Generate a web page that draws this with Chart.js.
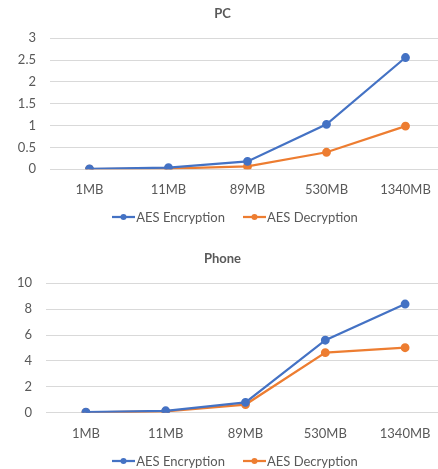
<!DOCTYPE html>
<html>
<head>
<meta charset="utf-8">
<script src="https://cdn.jsdelivr.net/npm/chart.js@4/dist/chart.umd.min.js"></script>
<style>
  html, body { margin: 0; padding: 0; background: #fff; overflow: hidden; }
  body { font-family: Lato, "Liberation Sans", sans-serif; }
  .box { position: absolute; left: 0; width: 470px; }
  #pcBox { top: 0; height: 240px; }
  #phoneBox { top: 240px; height: 229px; }
  .legend { position: absolute; left: 0; width: 470px; height: 16px; display: flex;
            justify-content: center; align-items: center; font-size: 13px; color: #595959; }
  .legend .item { display: flex; align-items: center; margin: 0 9px; }
  .legend svg { margin-right: 1px; }
  #pcLegend { top: 209px; }
  #phoneLegend { top: 453px; }
</style>
</head>
<body>
<div class="box" id="pcBox"><canvas id="pcChart"></canvas></div>
<div class="box" id="phoneBox"><canvas id="phoneChart"></canvas></div>
<div class="legend" id="pcLegend"></div>
<div class="legend" id="phoneLegend"></div>
<script>
  'use strict';

  const categories = ['1MB', '11MB', '89MB', '530MB', '1340MB'];

  const pcEncryption = [0.01, 0.04, 0.18, 1.03, 2.56];
  const pcDecryption = [0.005, 0.015, 0.065, 0.39, 0.99];

  const phoneEncryption = [0.05, 0.15, 0.8, 5.6, 8.4];
  const phoneDecryption = [0.02, 0.1, 0.63, 4.64, 5.02];

  const seriesNames = ['AES Encryption', 'AES Decryption'];
  const seriesColors = ['#4472C4', '#ED7D31'];

  const textColor = '#595959';
  Chart.defaults.font.family = 'Lato, "Liberation Sans", sans-serif';
  Chart.defaults.font.size = 13;
  Chart.defaults.color = textColor;

  // html legend built from the chart datasets: line with a dot, office style
  function buildLegend(chart, el) {
    chart.data.datasets.forEach((ds) => {
      const item = document.createElement('div');
      item.className = 'item';
      item.innerHTML =
        '<svg width="23" height="8"><line x1="0" y1="4" x2="23" y2="4" stroke="' + ds.borderColor +
        '" stroke-width="2.25"/><circle cx="11.5" cy="4" r="3" fill="' + ds.borderColor + '"/></svg>';
      const span = document.createElement('span');
      span.textContent = ds.label;
      item.appendChild(span);
      el.appendChild(item);
    });
  }

  function makeChart(id, title, enc, dec, yMax, yStep, titleTop, axisWidth, bottomPad) {
    const values = [enc, dec];
    return new Chart(document.getElementById(id), {
      type: 'line',
      data: {
        labels: categories,
        datasets: values.map((v, i) => ({
          label: seriesNames[i],
          data: v,
          borderColor: seriesColors[i],
          backgroundColor: seriesColors[i],
          borderWidth: 2.25,
          pointRadius: 3.3,
          pointHoverRadius: 3.3,
          pointStyle: 'circle',
          tension: 0
        }))
      },
      options: {
        responsive: true,
        maintainAspectRatio: false,
        animation: false,
        layout: { padding: { top: 0, left: 0, right: 25, bottom: bottomPad } },
        plugins: {
          title: {
            display: true,
            text: title,
            color: textColor,
            font: { size: 13, weight: 'bold' },
            padding: { top: titleTop, bottom: 16.5 }
          },
          legend: { display: false },
          tooltip: { enabled: false }
        },
        scales: {
          x: {
            offset: true,
            grid: { display: false, drawTicks: false },
            border: { display: false },
            ticks: { padding: 13, color: textColor, autoSkip: false, maxRotation: 0 },
            afterFit: (s) => { s.height = 40; }
          },
          y: {
            min: 0,
            max: yMax,
            grid: { color: '#D9D9D9', drawTicks: false, lineWidth: 1 },
            border: { display: false },
            ticks: { stepSize: yStep, padding: 14, color: textColor, autoSkip: false,
                     callback: (v) => String(v) },
            afterFit: (s) => { s.width = axisWidth; }
          }
        }
      }
    });
  }

  const pc = makeChart('pcChart', 'PC', pcEncryption, pcDecryption, 3, 0.5, 6.2, 50, 30.7);
  const phone = makeChart('phoneChart', 'Phone', phoneEncryption, phoneDecryption, 10, 2, 11.2, 46, 16.3);
  buildLegend(pc, document.getElementById('pcLegend'));
  buildLegend(phone, document.getElementById('phoneLegend'));
</script>
</body>
</html>
